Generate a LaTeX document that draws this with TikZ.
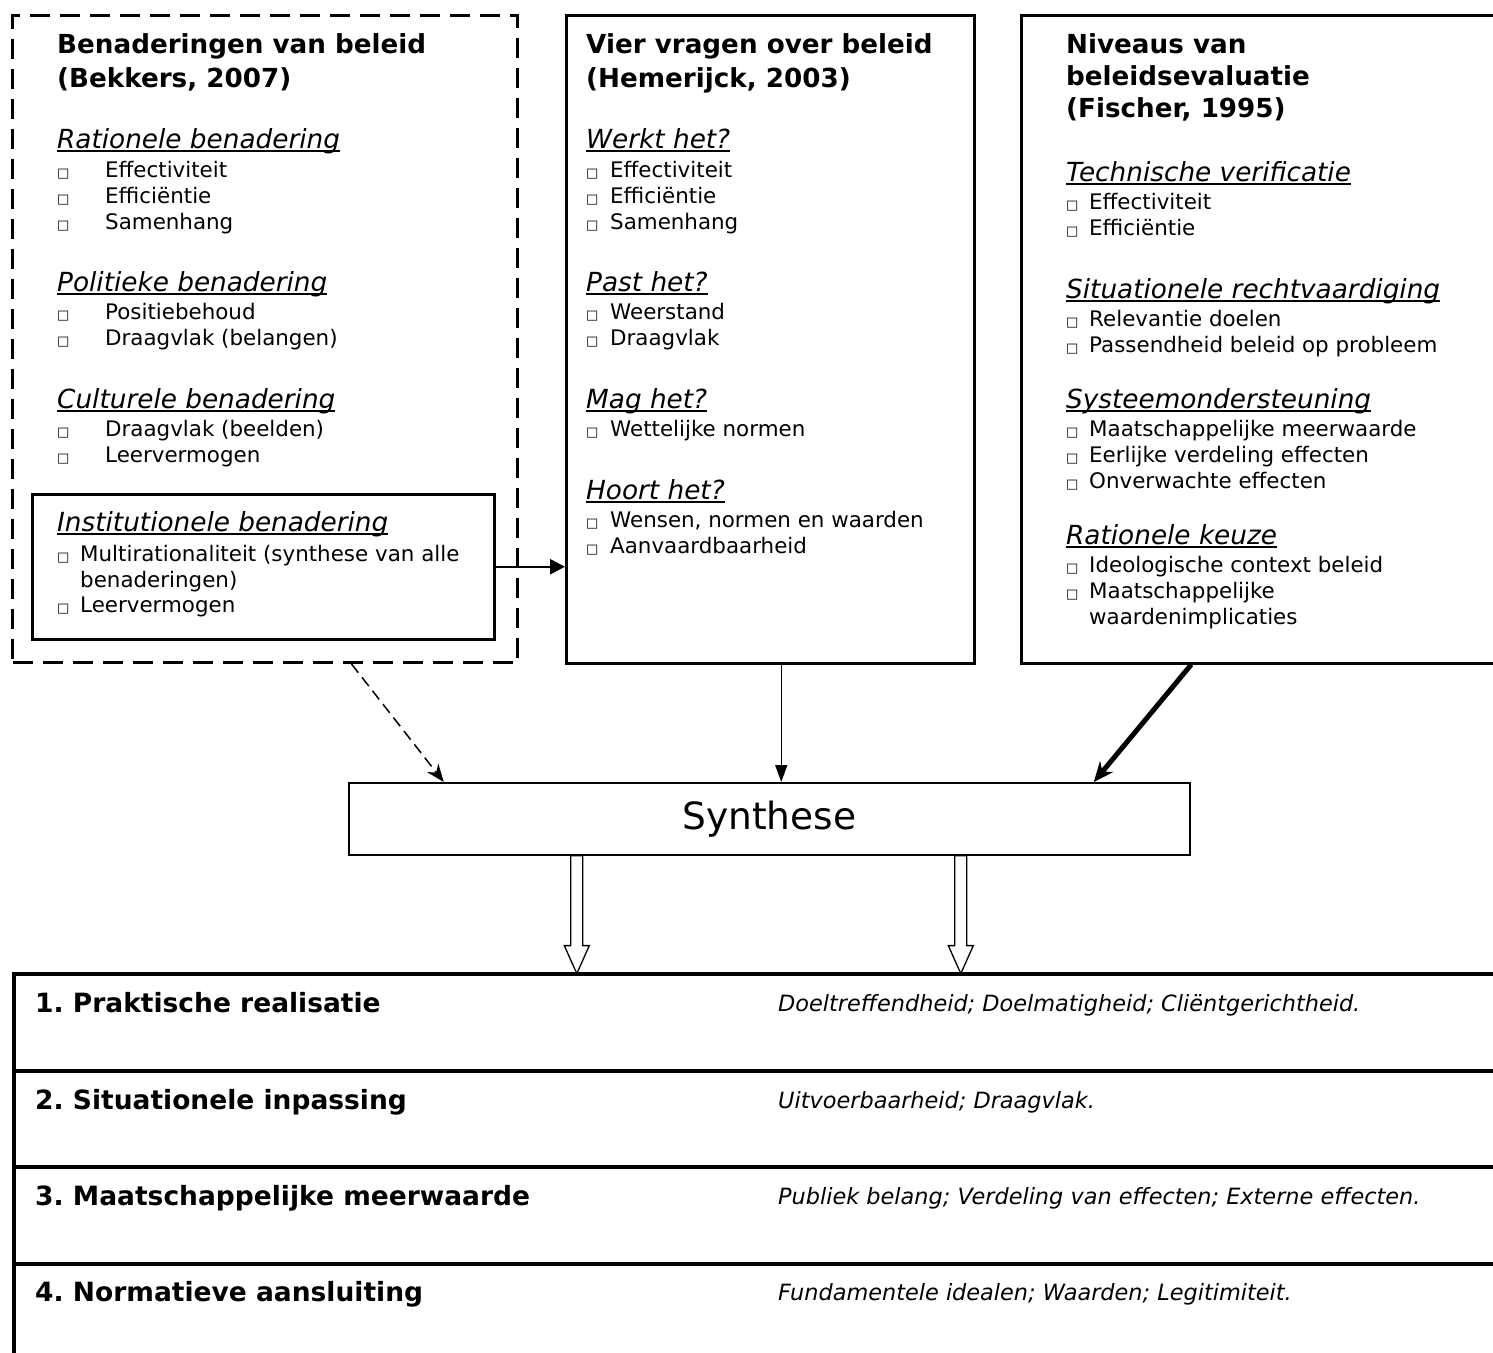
\documentclass[tikz,border=0pt]{standalone}
\usepackage{fontspec}
\setmainfont{DejaVu Sans}
\usetikzlibrary{arrows.meta,calc}
\frenchspacing
\newcommand\ulx[1]{\setbox0\hbox{#1}\rlap{\rule[-3pt]{\wd0}{2pt}}\box0}
\tikzset{
  txt/.style={inner sep=0pt, anchor=mid west, yshift=-6pt, font=\fontsize{21.4}{26}\selectfont},
  ttl/.style={inner sep=0pt, anchor=mid west, yshift=-8pt, font=\fontsize{26.2}{34}\selectfont\bfseries},
  hd/.style={inner sep=0pt, anchor=mid west, yshift=-7pt, font=\fontsize{26.3}{31}\selectfont\itshape},
  bul/.style={inner sep=0pt, anchor=base west, font=\fontsize{13}{13}\selectfont},
  frame/.style={draw, line width=2.5pt, inner sep=0pt, anchor=north west},
  rowbox/.style={draw, line width=4.2pt, inner sep=0pt, anchor=north west, minimum width=1540pt},
  rowt/.style={inner sep=0pt, anchor=mid west, yshift=-7pt, font=\fontsize{26.5}{30}\selectfont\bfseries},
  rowi/.style={inner sep=0pt, anchor=mid west, yshift=-6pt, font=\fontsize{22.4}{26}\selectfont\itshape},
  hollow/.style={draw, line width=1.3pt, fill=white, line join=miter},
}
\begin{document}
\begin{tikzpicture}[x=1pt,y=-1pt]
\clip (0,0) rectangle (1493,1352);
% boxes
\node[frame, line width=3pt, dash pattern=on 20pt off 10pt, minimum width=505pt, minimum height=647pt] (bek) at (11,14) {};
\node[frame, minimum width=462pt, minimum height=145pt] (inst) at (31,493) {};
\node[frame, minimum width=408pt, minimum height=648pt] (mid) at (565,14) {};
\node[frame, minimum width=520pt, minimum height=648pt] (rgt) at (1020,14) {};
\node[draw, line width=1.6pt, inner sep=0pt, anchor=north west, minimum width=841pt, minimum height=72pt, font=\fontsize{37.5}{40}\selectfont] (synth) at (348,782) {Synthese};
\node[rowbox, minimum height=96.5pt] (r1) at (12,972) {};
\node[rowbox, minimum height=96.5pt] (r2) at (12,1068.5) {};
\node[rowbox, minimum height=96.5pt] (r3) at (12,1165) {};
\node[rowbox, minimum height=110pt] (r4) at (12,1261.5) {};

% left box texts
\node[ttl] (b-t1) at (57,43) {Benaderingen van beleid};
\node[ttl] (b-t2) at (57,77) {(Bekkers, 2007)};
\node[hd] (b-h1) at (57,139) {\ulx{Rationele benadering}};
\node[bul] (b-b1) at (57,177) {□}; \node[txt] (b-i1) at (105,169) {Effectiviteit};
\node[bul] (b-b2) at (57,203) {□}; \node[txt] (b-i2) at (105,195) {Efficiëntie};
\node[bul] (b-b3) at (57,229) {□}; \node[txt] (b-i3) at (105,221) {Samenhang};
\node[hd] (b-h2) at (57,282) {\ulx{Politieke benadering}};
\node[bul] (b-b4) at (57,319) {□}; \node[txt] (b-i4) at (105,311) {Positiebehoud};
\node[bul] (b-b5) at (57,345) {□}; \node[txt] (b-i5) at (105,337) {Draagvlak (belangen)};
\node[hd] (b-h3) at (57,399) {\ulx{Culturele benadering}};
\node[bul] (b-b6) at (57,436) {□}; \node[txt] (b-i6) at (105,428) {Draagvlak (beelden)};
\node[bul] (b-b7) at (57,462) {□}; \node[txt] (b-i7) at (105,454) {Leervermogen};
\node[hd] (b-h4) at (57,522) {\ulx{Institutionele benadering}};
\node[bul] (b-b8) at (57,561) {□}; \node[txt] (b-i8) at (80,553) {Multirationaliteit (synthese van alle};
\node[txt] (b-i9) at (80,579) {benaderingen)};
\node[bul] (b-b10) at (57,612) {□}; \node[txt] (b-i10) at (80,604) {Leervermogen};

% middle box texts
\node[ttl] (m-t1) at (586,43) {Vier vragen over beleid};
\node[ttl] (m-t2) at (586,77) {(Hemerijck, 2003)};
\node[hd] (m-h1) at (586,139) {\ulx{Werkt het?}};
\node[bul] (m-b1) at (586,177) {□}; \node[txt] (m-i1) at (610,169) {Effectiviteit};
\node[bul] (m-b2) at (586,203) {□}; \node[txt] (m-i2) at (610,195) {Efficiëntie};
\node[bul] (m-b3) at (586,229) {□}; \node[txt] (m-i3) at (610,221) {Samenhang};
\node[hd] (m-h2) at (586,282) {\ulx{Past het?}};
\node[bul] (m-b4) at (586,319) {□}; \node[txt] (m-i4) at (610,311) {Weerstand};
\node[bul] (m-b5) at (586,345) {□}; \node[txt] (m-i5) at (610,337) {Draagvlak};
\node[hd] (m-h3) at (586,399) {\ulx{Mag het?}};
\node[bul] (m-b6) at (586,436) {□}; \node[txt] (m-i6) at (610,428) {Wettelijke normen};
\node[hd] (m-h4) at (586,490) {\ulx{Hoort het?}};
\node[bul] (m-b7) at (586,527) {□}; \node[txt] (m-i7) at (610,519) {Wensen, normen en waarden};
\node[bul] (m-b8) at (586,553) {□}; \node[txt] (m-i8) at (610,545) {Aanvaardbaarheid};

% right box texts
\node[ttl] (r-t1) at (1066,43) {Niveaus van};
\node[ttl] (r-t2) at (1066,75) {beleidsevaluatie};
\node[ttl] (r-t3) at (1066,107) {(Fischer, 1995)};
\node[hd] (r-h1) at (1066,172) {\ulx{Technische verificatie}};
\node[bul] (r-b1) at (1066,209) {□}; \node[txt] (r-i1) at (1089,201) {Effectiviteit};
\node[bul] (r-b2) at (1066,235) {□}; \node[txt] (r-i2) at (1089,227) {Efficiëntie};
\node[hd] (r-h2) at (1066,289) {\ulx{Situationele rechtvaardiging}};
\node[bul] (r-b3) at (1066,326) {□}; \node[txt] (r-i3) at (1089,318) {Relevantie doelen};
\node[bul] (r-b4) at (1066,352) {□}; \node[txt] (r-i4) at (1089,344) {Passendheid beleid op probleem};
\node[hd] (r-h3) at (1066,399) {\ulx{Systeemondersteuning}};
\node[bul] (r-b5) at (1066,436) {□}; \node[txt] (r-i5) at (1089,428) {Maatschappelijke meerwaarde};
\node[bul] (r-b6) at (1066,462) {□}; \node[txt] (r-i6) at (1089,454) {Eerlijke verdeling effecten};
\node[bul] (r-b7) at (1066,488) {□}; \node[txt] (r-i7) at (1089,480) {Onverwachte effecten};
\node[hd] (r-h4) at (1066,535) {\ulx{Rationele keuze}};
\node[bul] (r-b8) at (1066,572) {□}; \node[txt] (r-i8) at (1089,564) {Ideologische context beleid};
\node[bul] (r-b9) at (1066,598) {□}; \node[txt] (r-i9) at (1089,590) {Maatschappelijke};
\node[txt] (r-i10) at (1089,616) {waardenimplicaties};

% bottom rows
\node[rowt] (t1) at (35,1003) {1. Praktische realisatie};
\node[rowi] (d1) at (778,1003) {Doeltreffendheid; Doelmatigheid; Cliëntgerichtheid.};
\node[rowt] (t2) at (35,1100) {2. Situationele inpassing};
\node[rowi] (d2) at (778,1100) {Uitvoerbaarheid; Draagvlak.};
\node[rowt] (t3) at (35,1196) {3. Maatschappelijke meerwaarde};
\node[rowi] (d3) at (778,1196) {Publiek belang; Verdeling van effecten; Externe effecten.};
\node[rowt] (t4) at (35,1292) {4. Normatieve aansluiting};
\node[rowi] (d4) at (778,1292) {Fundamentele idealen; Waarden; Legitimiteit.};

% connectors
\draw[line width=2.5pt, -{Triangle[length=15pt,width=15pt]}] (inst.east) -- (inst.east -| mid.west);
\draw[line width=1.5pt, dash pattern=on 11pt off 6pt, -{Stealth[length=18pt,width=14pt]}] ([xshift=86.5pt]bek.south) -- ([xshift=-325.5pt]synth.north);
\draw[line width=1.5pt, -{Triangle[length=17pt,width=12pt]}] ([xshift=11pt]mid.south) -- ([xshift=11pt]mid.south |- synth.north);
\draw[line width=5pt, -{Stealth[length=20pt,width=17pt]}] ([xshift=-90pt]rgt.south) -- ([xshift=324.5pt]synth.north);
\draw[hollow] ([xshift=-198.5pt]synth.south) -- ++(0,90) -- ++(-6.5,0) -- ++(12.5,28) -- ++(12.5,-28) -- ++(-6.5,0) -- ++(0,-90) -- cycle;
\draw[hollow] ([xshift=185.5pt]synth.south) -- ++(0,90) -- ++(-6.5,0) -- ++(12.5,28) -- ++(12.5,-28) -- ++(-6.5,0) -- ++(0,-90) -- cycle;
\end{tikzpicture}
\end{document}
